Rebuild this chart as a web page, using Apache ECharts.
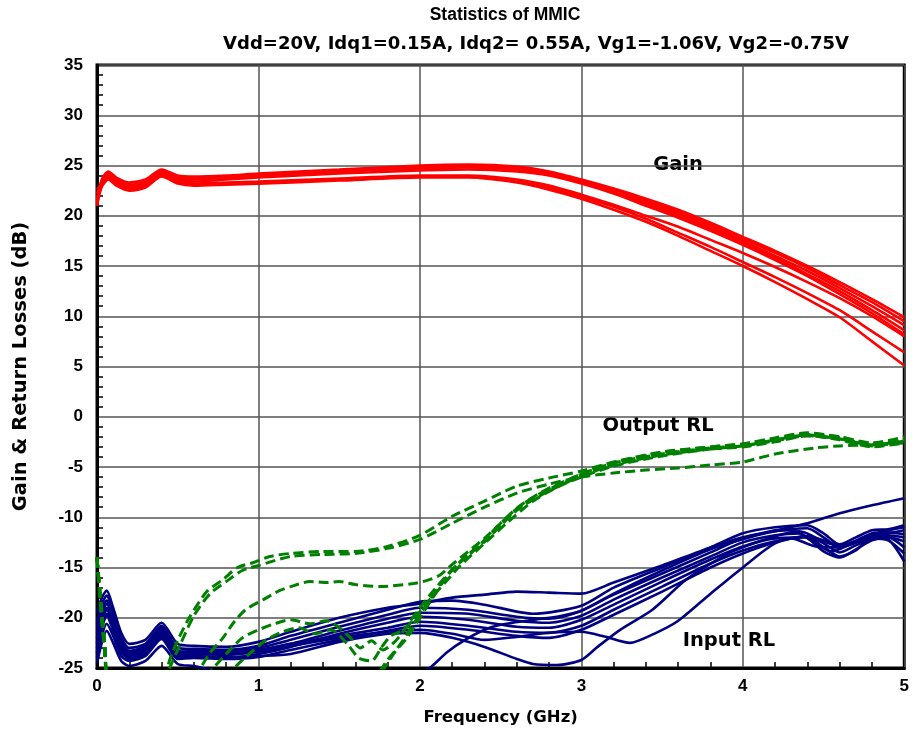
<!DOCTYPE html>
<html>
<head>
<meta charset="utf-8">
<script src="https://cdn.jsdelivr.net/npm/echarts@6/dist/echarts.min.js"></script>
<style>
  html, body { margin: 0; padding: 0; background: #fff; }
  #chart { width: 912px; height: 744px; }
</style>
</head>
<body>
<div id="chart"></div>
<script>
// Statistics of MMIC - gain / return losses vs frequency
// every curve = [GHz, dB] pairs

const titleLine1 = 'Statistics of MMIC'
const titleLine2 = 'Vdd=20V, Idq1=0.15A, Idq2= 0.55A, Vg1=-1.06V, Vg2=-0.75V'
const xTicks = [0, 1, 2, 3, 4, 5]
const yTicks = [-25, -20, -15, -10, -5, 0, 5, 10, 15, 20, 25, 30, 35]

// ---- Gain (red) ----
const gain1 = [[0,21.0],[0.03,23.6],[0.07,24.4],[0.12,23.8],[0.2,23.3],[0.3,23.6],[0.4,24.6],[0.5,24.0],[0.6,23.9],[0.8,24.0],[1.0,24.2],[1.5,24.6],[2.0,25.0],[2.3,25.1],[2.6,24.9],[2.8,24.4],[3.0,23.6],[3.2,22.7],[3.4,21.7],[3.6,20.6],[3.8,19.3],[4.0,17.9],[4.2,16.5],[4.4,15.0],[4.6,13.4],[4.8,11.7],[5.0,9.9]]
const gain2 = [[0,21.6],[0.03,23.5],[0.07,24.2],[0.12,23.6],[0.2,23.1],[0.3,23.4],[0.4,24.5],[0.5,23.8],[0.6,23.8],[0.8,23.9],[1.0,24.1],[1.5,24.5],[2.0,24.9],[2.3,25.0],[2.6,24.8],[2.8,24.3],[3.0,23.5],[3.2,22.6],[3.4,21.5],[3.6,20.4],[3.8,19.1],[4.0,17.7],[4.2,16.3],[4.4,14.8],[4.6,13.1],[4.8,11.4],[5.0,9.5]]
const gain3 = [[0,22.2],[0.03,23.4],[0.07,24.1],[0.12,23.5],[0.2,23.0],[0.3,23.3],[0.4,24.4],[0.5,23.8],[0.6,23.7],[0.8,23.8],[1.0,24.0],[1.5,24.4],[2.0,24.8],[2.3,24.9],[2.6,24.7],[2.8,24.2],[3.0,23.4],[3.2,22.4],[3.4,21.3],[3.6,20.2],[3.8,18.9],[4.0,17.5],[4.2,16.0],[4.4,14.5],[4.6,12.8],[4.8,11.0],[5.0,9.1]]
const gain4 = [[0,21.3],[0.03,23.3],[0.07,24.0],[0.12,23.4],[0.2,22.9],[0.3,23.2],[0.4,24.3],[0.5,23.7],[0.6,23.6],[0.8,23.8],[1.0,24.0],[1.5,24.4],[2.0,24.7],[2.3,24.8],[2.6,24.6],[2.8,24.1],[3.0,23.3],[3.2,22.3],[3.4,21.2],[3.6,20.0],[3.8,18.7],[4.0,17.3],[4.2,15.8],[4.4,14.2],[4.6,12.5],[4.8,10.6],[5.0,8.6]]
const gain5 = [[0,22.6],[0.03,23.2],[0.07,23.9],[0.12,23.3],[0.2,22.8],[0.3,23.1],[0.4,24.2],[0.5,23.6],[0.6,23.4],[0.8,23.6],[1.0,23.8],[1.5,24.2],[2.0,24.5],[2.3,24.6],[2.6,24.4],[2.8,24.0],[3.0,23.2],[3.2,22.2],[3.4,21.0],[3.6,19.8],[3.8,18.5],[4.0,17.1],[4.2,15.6],[4.4,14.0],[4.6,12.2],[4.8,10.3],[5.0,8.2]]
const gain6 = [[0,21.8],[0.03,23.1],[0.07,23.8],[0.12,23.2],[0.2,22.7],[0.3,23.0],[0.4,24.1],[0.5,23.4],[0.6,23.2],[0.8,23.3],[1.0,23.4],[1.5,23.7],[2.0,24.0],[2.3,24.0],[2.6,23.6],[2.8,23.0],[3.0,22.1],[3.2,21.1],[3.4,20.0],[3.6,18.9],[3.8,17.6],[4.0,16.3],[4.2,14.9],[4.4,13.4],[4.6,11.8],[4.8,10.0],[5.0,8.0]]
const gain7 = [[0,21.4],[0.03,23.0],[0.07,23.7],[0.12,23.1],[0.2,22.6],[0.3,22.9],[0.4,24.0],[0.5,23.3],[0.6,23.1],[0.8,23.2],[1.0,23.3],[1.5,23.6],[2.0,23.9],[2.3,23.9],[2.6,23.4],[2.8,22.8],[3.0,21.9],[3.2,20.9],[3.4,19.7],[3.6,18.3],[3.8,16.9],[4.0,15.4],[4.2,13.9],[4.4,12.3],[4.6,10.6],[4.8,8.5],[5.0,6.4]]
const gain8 = [[0,21.0],[0.03,22.9],[0.07,23.6],[0.12,23.0],[0.2,22.5],[0.3,22.8],[0.4,23.9],[0.5,23.2],[0.6,23.0],[0.8,23.1],[1.0,23.2],[1.5,23.5],[2.0,23.8],[2.3,23.8],[2.6,23.3],[2.8,22.6],[3.0,21.7],[3.2,20.6],[3.4,19.4],[3.6,18.0],[3.8,16.5],[4.0,15.0],[4.2,13.4],[4.4,11.7],[4.6,9.9],[4.8,7.5],[5.0,5.1]]

// ---- Output RL (green, dashed) ----
const outRL1 = [[0,-14],[0.02,-18.5],[0.05,-24],[0.07,-27],[0.3,-29],[0.42,-26],[0.45,-24.2],[0.51,-21.9],[0.575,-19.9],[0.68,-17.4],[0.78,-16.2],[0.87,-15.0],[0.97,-14.5],[1.07,-13.9],[1.2,-13.6],[1.4,-13.4],[1.6,-13.4],[1.8,-12.9],[2.0,-11.8],[2.2,-9.9],[2.4,-8.4],[2.6,-6.9],[2.8,-6.1],[3.0,-5.4],[3.2,-4.5],[3.5,-3.5],[3.8,-3.0],[4.0,-2.7],[4.2,-2.2],[4.4,-1.7],[4.6,-2.0],[4.8,-2.7],[5.0,-2.2]]
const outRL2 = [[0,-14],[0.02,-18.3],[0.05,-23.8],[0.07,-27],[0.35,-29],[0.45,-25],[0.52,-22.5],[0.6,-19.8],[0.7,-17.6],[0.8,-16.4],[0.9,-15.3],[1.0,-14.8],[1.2,-13.9],[1.4,-13.7],[1.6,-13.6],[1.8,-13.1],[2.0,-12.2],[2.2,-10.6],[2.4,-9.0],[2.6,-7.6],[2.8,-6.7],[3.0,-6.0],[3.2,-5.6],[3.4,-5.3],[3.6,-5.1],[3.8,-4.8],[4.0,-4.5],[4.2,-3.7],[4.45,-3.1],[4.6,-2.9],[4.8,-2.8],[5.0,-2.6]]
const outRL3 = [[0,-14],[0.02,-18],[0.05,-23.5],[0.07,-26.5],[0.5,-28],[0.62,-25.5],[0.7,-23.5],[0.78,-22.0],[0.85,-20.4],[0.92,-19.2],[1.03,-18.2],[1.13,-17.3],[1.2,-16.9],[1.32,-16.4],[1.42,-16.5],[1.5,-16.4],[1.6,-16.7],[1.75,-16.9],[1.96,-16.6],[2.04,-16.3],[2.12,-15.8],[2.2,-14.7],[2.3,-13.4],[2.4,-12.1],[2.5,-10.6],[2.6,-9.1],[2.7,-8.0],[2.8,-7.1],[2.9,-6.4],[3.0,-5.7],[3.2,-4.6],[3.5,-3.7],[3.8,-3.1],[4.0,-2.9],[4.2,-2.4],[4.4,-1.9],[4.6,-2.2],[4.8,-2.9],[5.0,-2.5]]
const outRL4 = [[0,-14],[0.02,-17.5],[0.05,-23],[0.07,-26],[1.7,-27],[1.78,-25],[1.85,-23.3],[1.92,-22.0],[2.0,-20.0],[2.08,-18.0],[2.18,-15.6],[2.3,-13.7],[2.41,-12.3],[2.54,-10.1],[2.64,-8.7],[2.76,-7.6],[2.88,-6.6],[3.0,-5.7],[3.17,-4.7],[3.4,-3.9],[3.7,-3.3],[4.0,-3.0],[4.2,-2.5],[4.4,-1.9],[4.6,-2.3],[4.8,-3.0],[5.0,-2.6]]
const outRL5 = [[0,-14],[0.02,-17.8],[0.05,-23.2],[0.07,-26.5],[1.65,-27],[1.72,-26],[1.8,-24.2],[1.88,-22.6],[1.96,-20.6],[2.05,-18.5],[2.15,-16.2],[2.25,-14.4],[2.38,-12.6],[2.5,-10.6],[2.62,-8.9],[2.75,-7.6],[2.9,-6.5],[3.05,-5.4],[3.2,-4.6],[3.5,-3.6],[3.8,-3.0],[4.0,-2.7],[4.2,-2.1],[4.4,-1.6],[4.6,-2.0],[4.8,-2.6],[5.0,-2.0]]
const outRL6 = [[0,-14],[0.02,-18],[0.05,-23],[0.07,-26],[0.6,-27],[0.72,-25],[0.8,-23.6],[0.9,-22.0],[1.0,-21.2],[1.1,-20.6],[1.2,-20.2],[1.32,-20.6],[1.42,-20.3],[1.5,-21.0],[1.57,-22.0],[1.63,-23.0],[1.7,-22.3],[1.77,-23.2],[1.85,-22.3],[1.92,-20.8],[2.0,-19.0],[2.1,-17.0],[2.2,-15.2],[2.3,-13.8],[2.45,-11.6],[2.6,-9.3],[2.75,-7.8],[2.9,-6.6],[3.0,-5.9],[3.2,-4.8],[3.5,-3.8],[3.8,-3.2],[4.0,-2.9],[4.2,-2.3],[4.4,-1.8],[4.6,-2.1],[4.8,-2.8],[5.0,-2.4]]
const outRL7 = [[0,-14],[0.02,-18.2],[0.05,-23.5],[0.07,-27],[0.75,-27],[0.85,-25],[0.95,-23.5],[1.05,-22.2],[1.15,-21.4],[1.25,-21.0],[1.35,-21.6],[1.45,-21.2],[1.55,-22.6],[1.62,-24.0],[1.7,-24.3],[1.76,-23.0],[1.82,-21.8],[1.9,-21.2],[1.98,-19.8],[2.05,-18.4],[2.15,-16.6],[2.25,-14.8],[2.4,-12.6],[2.55,-10.4],[2.7,-8.4],[2.85,-7.0],[3.0,-6.0],[3.2,-4.9],[3.5,-3.9],[3.8,-3.2],[4.0,-2.9],[4.2,-2.3],[4.4,-1.8],[4.6,-2.2],[4.8,-2.8],[5.0,-2.4]]

// ---- Input RL (navy) ----
const inRL1 = [[0,-19.5],[0.03,-18.0],[0.06,-17.3],[0.1,-19.0],[0.15,-21.5],[0.2,-22.6],[0.3,-22.2],[0.4,-20.5],[0.5,-22.6],[0.6,-22.8],[0.8,-22.9],[1.0,-22.4],[1.2,-21.4],[1.5,-20.0],[1.8,-19.0],[2.0,-18.6],[2.2,-18.0],[2.4,-17.7],[2.6,-17.4],[2.8,-17.5],[3.0,-17.6],[3.2,-16.5],[3.5,-14.8],[3.8,-13.0],[4.0,-12.0],[4.2,-11.3],[4.4,-10.6],[4.6,-9.6],[4.8,-8.8],[5.0,-8.1]]
const inRL2 = [[0,-20.5],[0.03,-18.6],[0.06,-17.8],[0.1,-19.6],[0.15,-22.0],[0.2,-23.0],[0.3,-22.6],[0.4,-20.8],[0.5,-23.0],[0.6,-23.1],[0.8,-23.2],[1.0,-22.8],[1.2,-21.8],[1.5,-20.5],[1.8,-19.2],[2.0,-18.4],[2.2,-18.3],[2.4,-18.7],[2.7,-19.6],[3.0,-18.8],[3.2,-17.0],[3.5,-15.0],[3.8,-13.0],[4.0,-11.6],[4.2,-11.0],[4.4,-10.8],[4.5,-11.6],[4.6,-12.7],[4.7,-12.0],[4.8,-11.3],[4.9,-11.2],[5.0,-10.8]]
const inRL3 = [[0,-21.5],[0.03,-19.5],[0.06,-18.6],[0.1,-20.2],[0.15,-22.5],[0.2,-23.4],[0.3,-23.0],[0.4,-21.2],[0.5,-23.3],[0.6,-23.4],[0.8,-23.5],[1.0,-23.0],[1.2,-22.2],[1.5,-20.9],[1.8,-19.7],[2.0,-19.0],[2.3,-19.2],[2.6,-19.9],[2.8,-20.1],[3.0,-19.3],[3.2,-17.7],[3.5,-15.6],[3.8,-13.5],[4.0,-12.1],[4.2,-11.4],[4.3,-11.3],[4.45,-12.6],[4.55,-13.4],[4.65,-12.8],[4.8,-11.6],[4.9,-11.5],[5.0,-11.7]]
const inRL4 = [[0,-22.5],[0.03,-20.3],[0.06,-19.2],[0.1,-20.8],[0.15,-23.0],[0.2,-23.8],[0.3,-23.3],[0.4,-21.6],[0.5,-23.6],[0.6,-23.6],[0.8,-23.7],[1.0,-23.3],[1.2,-22.6],[1.5,-21.3],[1.8,-20.1],[2.0,-19.5],[2.3,-19.6],[2.6,-20.3],[2.8,-20.5],[3.0,-19.8],[3.2,-18.2],[3.5,-16.0],[3.8,-13.9],[4.0,-12.5],[4.2,-11.8],[4.35,-11.6],[4.5,-13.4],[4.6,-14.0],[4.7,-13.2],[4.8,-12.3],[4.9,-12.0],[5.0,-13.0]]
const inRL5 = [[0,-23.5],[0.03,-21.0],[0.06,-19.8],[0.1,-21.3],[0.15,-23.4],[0.2,-24.1],[0.3,-23.6],[0.4,-22.0],[0.5,-23.9],[0.6,-23.9],[0.8,-24.0],[1.0,-23.6],[1.2,-22.9],[1.5,-21.6],[1.8,-20.5],[2.0,-19.9],[2.3,-20.2],[2.6,-20.9],[2.8,-21.0],[3.0,-20.2],[3.2,-18.7],[3.5,-16.4],[3.8,-14.2],[4.0,-12.9],[4.2,-12.1],[4.4,-12.0],[4.5,-13.0],[4.6,-13.9],[4.7,-13.3],[4.8,-12.0],[4.9,-12.2],[5.0,-14.4]]
const inRL6 = [[0,-21.0],[0.03,-19.0],[0.06,-18.3],[0.1,-20.0],[0.15,-22.3],[0.2,-23.3],[0.3,-22.8],[0.4,-21.0],[0.5,-23.4],[0.6,-23.3],[0.8,-23.4],[1.0,-23.2],[1.2,-22.6],[1.5,-21.8],[1.8,-21.0],[2.0,-20.4],[2.3,-20.8],[2.6,-21.4],[2.8,-21.5],[3.0,-20.8],[3.2,-19.2],[3.5,-16.9],[3.8,-14.6],[4.0,-13.3],[4.2,-12.4],[4.4,-11.9],[4.5,-12.3],[4.6,-12.8],[4.7,-12.4],[4.8,-12.1],[4.9,-12.0],[5.0,-12.4]]
const inRL7 = [[0,-24.0],[0.03,-21.8],[0.06,-20.6],[0.1,-21.8],[0.15,-23.8],[0.2,-24.3],[0.3,-23.8],[0.4,-22.1],[0.5,-24.1],[0.6,-24.0],[0.8,-24.1],[1.0,-23.9],[1.2,-23.2],[1.5,-22.2],[1.8,-21.3],[2.0,-20.8],[2.3,-21.2],[2.6,-21.8],[2.8,-22.0],[3.0,-21.2],[3.2,-19.7],[3.5,-17.4],[3.8,-15.0],[4.0,-13.6],[4.2,-12.5],[4.3,-12.1],[4.45,-12.9],[4.6,-13.0],[4.8,-12.1],[4.9,-12.3],[5.0,-13.6]]
const inRL8 = [[0,-22.0],[0.03,-20.0],[0.06,-19.0],[0.1,-20.6],[0.15,-22.8],[0.2,-23.6],[0.3,-23.2],[0.4,-21.4],[0.5,-23.5],[0.6,-23.5],[0.8,-23.6],[1.0,-23.4],[1.2,-22.8],[1.5,-22.0],[1.8,-21.4],[2.0,-21.2],[2.2,-21.6],[2.4,-22.2],[2.6,-21.9],[2.8,-21.5],[3.0,-21.4],[3.15,-21.9],[3.3,-22.5],[3.45,-21.6],[3.6,-20.3],[3.8,-17.6],[3.9,-16.3],[4.0,-15.0],[4.2,-12.6],[4.4,-11.9],[4.5,-12.6],[4.6,-13.5],[4.7,-12.8],[4.8,-12.1],[4.9,-11.8],[5.0,-12.0]]
const inRL9 = [[0,-23.0],[0.03,-20.8],[0.06,-19.6],[0.1,-21.1],[0.15,-23.2],[0.2,-24.0],[0.3,-23.5],[0.4,-21.8],[0.5,-23.8],[0.6,-23.8],[0.8,-23.9],[1.0,-23.8],[1.2,-23.6],[1.5,-22.4],[1.8,-21.6],[2.0,-21.5],[2.2,-22.0],[2.4,-22.9],[2.6,-24.1],[2.7,-24.6],[2.85,-24.7],[3.0,-24.2],[3.1,-22.9],[3.24,-21.2],[3.44,-19.2],[3.65,-16.2],[3.9,-13.7],[4.0,-13.0],[4.2,-11.9],[4.35,-11.4],[4.5,-12.4],[4.6,-12.9],[4.75,-12.0],[4.9,-11.6],[5.0,-11.3]]
const inRL10 = [[0,-24.5],[0.03,-22.5],[0.06,-21.3],[0.1,-22.5],[0.15,-24.3],[0.2,-24.8],[0.3,-24.3],[0.4,-22.8],[0.5,-24.6],[0.6,-24.8],[0.8,-25.6],[1.0,-26.5],[1.5,-27],[1.9,-26.5],[2.06,-25.0],[2.17,-23.4],[2.27,-22.3],[2.4,-21.2],[2.5,-20.7],[2.7,-20.2],[2.85,-19.9],[3.0,-19.3],[3.2,-17.6],[3.5,-15.3],[3.8,-13.2],[4.0,-12.2],[4.2,-11.4],[4.4,-11.1],[4.5,-12.0],[4.6,-13.0],[4.7,-12.4],[4.85,-11.5],[5.0,-11.0]]

const gainCurves = [gain1, gain2, gain3, gain4, gain5, gain6, gain7, gain8]
const outCurves = [outRL1, outRL2, outRL3, outRL4, outRL5, outRL6, outRL7]
const inCurves = [inRL1, inRL2, inRL3, inRL4, inRL5, inRL6, inRL7, inRL8, inRL9, inRL10]

const FONT = '"Liberation Sans", Arial, sans-serif'
const WIDE = '"DejaVu Sans", Verdana, sans-serif'   // the original labels are set wide
const RED = '#ff0000'
const GREEN = '#008000'
const NAVY = '#000080'

function lineSeries(data, color, dashed) {
  return {
    type: 'line',
    data: data,
    symbol: 'none',
    smooth: 0.25,
    silent: true,
    animation: false,
    lineStyle: { color: color, width: dashed ? 3 : 2.6, type: dashed ? [10, 5] : 'solid' }
  }
}

let series = []
inCurves.forEach(d => series.push(lineSeries(d, NAVY, false)))
outCurves.forEach(d => series.push(lineSeries(d, GREEN, true)))
gainCurves.forEach(d => series.push(lineSeries(d, RED, false)))

const chart = echarts.init(document.getElementById('chart'), null, { renderer: 'canvas' })

const boldText = (family, size) => ({ fontFamily: family, fontSize: size, fontWeight: 'bold', color: '#000' })

const option = {
  backgroundColor: '#fff',
  animation: false,
  title: [
    { text: titleLine1, left: 505, top: 6, padding: 0, textAlign: 'center', textStyle: boldText(FONT, 17.5) },
    { text: titleLine2, left: 536, top: 35, padding: 0, textAlign: 'center', textStyle: boldText(WIDE, 18) }
  ],
  grid: {
    left: 97, right: 7, top: 65, bottom: 76,
    show: true, borderColor: '#000', borderWidth: 3, backgroundColor: 'transparent'
  },
  xAxis: {
    type: 'value', min: xTicks[0], max: xTicks[xTicks.length - 1], interval: 1,
    name: 'Frequency (GHz)', nameLocation: 'middle', nameGap: 41,
    nameTextStyle: boldText(WIDE, 16.5),
    axisLine: { show: true, onZero: false, lineStyle: { color: '#000', width: 3 } },
    axisTick: { show: false, inside: true },
    minorTick: { show: true, splitNumber: 5, length: 6, lineStyle: { color: '#000', width: 1.5 } },
    axisLabel: Object.assign(boldText(FONT, 17), { margin: 10 }),
    splitLine: { show: true, lineStyle: { color: '#555', width: 1.5 } }
  },
  yAxis: {
    type: 'value', min: yTicks[0], max: yTicks[yTicks.length - 1], interval: 5,
    name: 'Gain & Return Losses (dB)', nameLocation: 'middle', nameGap: 66,
    nameTextStyle: boldText(WIDE, 19.5),
    axisLine: { show: true, onZero: false, lineStyle: { color: '#000', width: 3 } },
    axisTick: { show: false, inside: true },
    minorTick: { show: true, splitNumber: 5, length: 6, lineStyle: { color: '#000', width: 1.5 } },
    axisLabel: Object.assign(boldText(FONT, 17), { margin: 14 }),
    splitLine: { show: true, lineStyle: { color: '#555', width: 1.5 } }
  },
  graphic: [
    { type: 'text', x: 678, y: 165, style: { text: 'Gain', font: 'bold 19.5px "DejaVu Sans"', fill: '#000', align: 'center', verticalAlign: 'middle' } },
    { type: 'text', x: 658, y: 426, style: { text: 'Output RL', font: 'bold 19.5px "DejaVu Sans"', fill: '#000', align: 'center', verticalAlign: 'middle' } },
    { type: 'text', x: 729, y: 641, style: { text: 'Input RL', font: 'bold 19.5px "DejaVu Sans"', fill: '#000', align: 'center', verticalAlign: 'middle' } }
  ],
  series: series
}

chart.setOption(option)
</script>
</body>
</html>
